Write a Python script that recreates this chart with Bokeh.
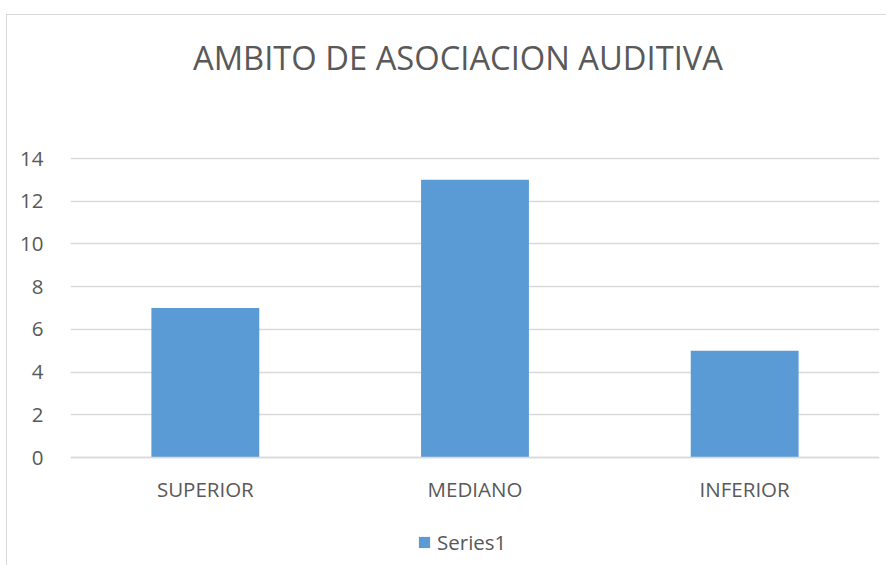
from bokeh.plotting import figure
from bokeh.models import ColumnDataSource, Legend, LegendItem, FixedTicker, Label
from bokeh.embed import file_html
from bokeh.resources import INLINE

categories = ["SUPERIOR", "MEDIANO", "INFERIOR"]
values = [7, 13, 5]
y_ticks = [0, 2, 4, 6, 8, 10, 12, 14]
title_text = "AMBITO DE ASOCIACION AUDITIVA"
series_name = "Series1"

FONT = "Open Sans"
TXT = "#595959"
GRID = "#D9D9D9"
BAR = "#5B9BD5"

W, H = 886, 565
TOP, BOTTOM = 8, 8
GRID_TOP_PX = 158   # where value 14 sits, from the top
ZERO_PX = 457       # where value 0 sits, from the top
TITLE_PX = 57       # title centre, from the top
px_per_unit = (ZERO_PX - GRID_TOP_PX) / 14.0
y_start = -((H - BOTTOM) - ZERO_PX) / px_per_unit
y_end = 14 + (GRID_TOP_PX - TOP) / px_per_unit
title_y = 14 + (GRID_TOP_PX - TITLE_PX) / px_per_unit

src = ColumnDataSource(dict(cat=categories, val=values))

p = figure(x_range=categories, y_range=(y_start, y_end), width=W, height=H,
           output_backend="svg", toolbar_location=None,
           min_border_left=70, min_border_right=7, min_border_top=TOP,
           min_border_bottom=BOTTOM)
p.outline_line_color = None
p.background_fill_color = "white"
p.border_fill_color = "white"
p.border_fill_alpha = 0
p.background_fill_alpha = 0
p.styles = {
    "background": "linear-gradient(#D9D9D9,#D9D9D9) 6px 14px / 1px 100% no-repeat, "
                  "linear-gradient(#D9D9D9,#D9D9D9) 6px 14px / 100% 1px no-repeat, white"
}

r = p.vbar(x="cat", top="val", bottom=0, width=0.4, source=src, color=BAR, line_color=None)

p.x_range.range_padding = 0
p.xgrid.grid_line_color = None
p.ygrid.grid_line_color = GRID
p.ygrid.grid_line_width = 1.5
p.yaxis.ticker = FixedTicker(ticks=y_ticks)

for ax in (p.xaxis[0], p.yaxis[0]):
    ax.major_tick_line_color = None
    ax.minor_tick_line_color = None
    ax.major_label_text_font = FONT
    ax.major_label_text_font_size = "20.5px"
    ax.major_label_text_color = TXT
p.yaxis.axis_line_color = None
p.yaxis.major_label_standoff = 21
p.xaxis.fixed_location = 0
p.xaxis.axis_line_color = GRID
p.xaxis.axis_line_width = 1.5
p.xaxis.major_label_standoff = 11

title = Label(x=1.5, y=title_y, x_offset=-17, text=title_text,
              text_font=FONT, text_font_size="32.7px", text_color=TXT,
              text_align="center", text_baseline="middle")
p.add_layout(title)

legend = Legend(items=[LegendItem(label=series_name, renderers=[r])],
                location=(347, 1), orientation="horizontal",
                glyph_width=14, glyph_height=14, label_standoff=6,
                padding=0, margin=0, border_line_color=None,
                background_fill_alpha=0,
                label_text_font=FONT, label_text_font_size="20.5px",
                label_text_color=TXT)
p.add_layout(legend, "center")

open("out.html", "w").write(file_html(p, INLINE))
